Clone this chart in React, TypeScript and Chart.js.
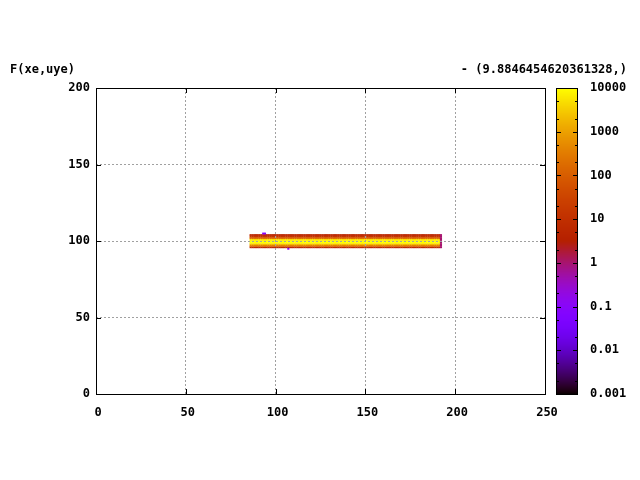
import React, { useEffect, useRef } from "react";
import { Chart, registerables } from "chart.js";

Chart.register(...registerables);

// ---- data ----
const leftTitle = "F(xe,uye)";
const rightTitle = "- (9.8846454620361328,)";

const xTicks = [0, 50, 100, 150, 200, 250];
const yTicks = [0, 50, 100, 150, 200];
const cbTicks = [0.001, 0.01, 0.1, 1, 10, 100, 1000, 10000];
const cbTickLabels = ["0.001", "0.01", "0.1", "1", "10", "100", "1000", "10000"];
const cbMinorFactors = [2, 5];

// heat-map band: columns x = bandFirstColumn..bandLastColumn, rows below
const bandFirstColumn = 86;
const bandLastColumn = 191;
const bandRowsY = [96, 97, 98, 99, 100, 101, 102, 103, 104];
const bandRowValues = [6, 300, 2000, 10000, 10000, 5000, 200, 15, 6];
// last column of the band
const edgeColumnX = 192;
const edgeColumnValues = [1, 1, 1, 1, 1, 1, 1, 1, 1];
// isolated cells
const speckX = [93, 94, 107];
const speckY = [105, 105, 95];
const speckValues = [0.1, 0.1, 0.1];

const CB_MIN = 0.001;
const CB_MAX = 10000;

const FONT = "'DejaVu Sans Mono', monospace";

function palette(v: number): string {
  const lo = Math.log10(CB_MIN);
  const hi = Math.log10(CB_MAX);
  let t = (Math.log10(Math.max(v, 1e-12)) - lo) / (hi - lo);
  t = Math.min(1, Math.max(0, t));
  const r = Math.sqrt(t);
  const g = t * t * t;
  const b = Math.max(0, Math.sin(2 * Math.PI * t));
  return `rgb(${Math.round(r * 255)},${Math.round(g * 255)},${Math.round(b * 255)})`;
}

function buildCells() {
  const cells: { x: number; y: number; v: number }[] = [];
  for (let x = bandFirstColumn; x <= bandLastColumn; x++) {
    bandRowsY.forEach((y, i) => cells.push({ x, y, v: bandRowValues[i] }));
  }
  bandRowsY.forEach((y, i) => cells.push({ x: edgeColumnX, y, v: edgeColumnValues[i] }));
  speckX.forEach((x, i) => cells.push({ x, y: speckY[i], v: speckValues[i] }));
  return cells;
}

const heatPlugin = {
  id: "heatCells",
  beforeDraw(chart: any) {
    const { ctx } = chart;
    const xs = chart.scales.x;
    const ys = chart.scales.y;
    const ds = chart.data.datasets[0];
    ctx.save();
    for (const c of ds.data as any[]) {
      const x0 = xs.getPixelForValue(c.x - 0.5);
      const x1 = xs.getPixelForValue(c.x + 0.5);
      const y0 = ys.getPixelForValue(c.y + 0.5);
      const y1 = ys.getPixelForValue(c.y - 0.5);
      ctx.fillStyle = palette(c.v);
      ctx.fillRect(x0, y0, x1 - x0 + 0.3, y1 - y0 + 0.3);
    }
    ctx.restore();
  },
};

const framePlugin = {
  id: "gnuFrame",
  afterDraw(chart: any) {
    const { ctx, chartArea: a } = chart;
    const xs = chart.scales.x;
    const ys = chart.scales.y;
    const cb = chart.scales.cb;
    ctx.save();
    ctx.strokeStyle = "#000";
    ctx.lineWidth = 1;
    // plot border
    ctx.strokeRect(Math.round(a.left) + 0.5, Math.round(a.top) + 0.5, Math.round(a.right - a.left), Math.round(a.bottom - a.top));
    // inward ticks
    const TL = 5;
    ctx.beginPath();
    for (const v of xTicks) {
      const px = Math.round(xs.getPixelForValue(v)) + 0.5;
      ctx.moveTo(px, a.bottom);
      ctx.lineTo(px, a.bottom - TL);
      ctx.moveTo(px, a.top);
      ctx.lineTo(px, a.top + TL);
    }
    for (const v of yTicks) {
      const py = Math.round(ys.getPixelForValue(v)) + 0.5;
      ctx.moveTo(a.left, py);
      ctx.lineTo(a.left + TL, py);
      ctx.moveTo(a.right, py);
      ctx.lineTo(a.right - TL, py);
    }
    ctx.stroke();

    // colour box
    const cx0 = Math.round(a.right) + 11;
    const cw = 22;
    const top = Math.round(cb.top);
    const bottom = Math.round(cb.bottom);
    for (let py = top; py < bottom; py++) {
      const v = cb.getValueForPixel(py + 0.5);
      ctx.fillStyle = palette(v);
      ctx.fillRect(cx0, py, cw, 1);
    }
    ctx.strokeRect(cx0 + 0.5, top + 0.5, cw - 1, bottom - top);
    ctx.beginPath();
    for (const v of cbTicks) {
      const py = Math.round(cb.getPixelForValue(v)) + 0.5;
      ctx.moveTo(cx0, py);
      ctx.lineTo(cx0 + 5, py);
      ctx.moveTo(cx0 + cw, py);
      ctx.lineTo(cx0 + cw - 5, py);
      if (v < CB_MAX) {
        for (const f of cbMinorFactors) {
          const pm = Math.round(cb.getPixelForValue(v * f)) + 0.5;
          ctx.moveTo(cx0, pm);
          ctx.lineTo(cx0 + 3, pm);
          ctx.moveTo(cx0 + cw, pm);
          ctx.lineTo(cx0 + cw - 3, pm);
        }
      }
    }
    ctx.stroke();
    ctx.restore();
  },
};

export default function App() {
  const ref = useRef<HTMLCanvasElement | null>(null);
  useEffect(() => {
    if (!ref.current) return;
    const font = { family: FONT, size: 12, weight: "bold" as const };
    const chart = new Chart(ref.current, {
      type: "scatter",
      data: {
        datasets: [
          {
            label: leftTitle,
            data: buildCells() as any,
            pointRadius: 0,
            pointHoverRadius: 0,
            showLine: false,
          },
        ],
      },
      options: {
        animation: false,
        responsive: false,
        devicePixelRatio: 1,
        events: [],
        layout: { padding: { left: 10, right: 13, top: 0, bottom: 0 } },
        plugins: {
          legend: { display: false },
          tooltip: { enabled: false },
          title: {
            display: true,
            text: leftTitle,
            align: "start",
            color: "#000",
            font,
            padding: { top: 63, bottom: 0 },
          },
          subtitle: {
            display: true,
            text: rightTitle,
            align: "end",
            color: "#000",
            font,
            padding: { top: -14.4, bottom: 10.6 },
          },
        },
        scales: {
          x: {
            type: "linear",
            position: "bottom",
            min: 0,
            max: 250,
            afterBuildTicks: (s: any) => {
              s.ticks = xTicks.map((v) => ({ value: v }));
            },
            afterFit: (s: any) => {
              s.height = 86;
            },
            ticks: { color: "#000", font, padding: 12, labelOffset: 2, maxRotation: 0, autoSkip: false },
            grid: { color: "#a0a0a0", lineWidth: 1, drawTicks: false },
            border: { display: false, dash: [2, 2] },
          },
          y: {
            type: "linear",
            position: "left",
            min: 0,
            max: 200,
            afterBuildTicks: (s: any) => {
              s.ticks = yTicks.map((v) => ({ value: v }));
            },
            afterFit: (s: any) => {
              s.width = 86;
            },
            ticks: { color: "#000", font, padding: 6, autoSkip: false },
            grid: { color: "#a0a0a0", lineWidth: 1, drawTicks: false },
            border: { display: false, dash: [2, 2] },
          },
          cb: {
            type: "logarithmic",
            position: "right",
            min: CB_MIN,
            max: CB_MAX,
            afterBuildTicks: (s: any) => {
              s.ticks = cbTicks.map((v) => ({ value: v }));
            },
            afterFit: (s: any) => {
              s.width = 82;
            },
            ticks: {
              color: "#000",
              font,
              padding: 45,
              autoSkip: false,
              callback: (_v: any, i: number) => cbTickLabels[i],
            },
            grid: { display: false, drawTicks: false },
            border: { display: false },
          },
        },
      },
      plugins: [heatPlugin, framePlugin],
    });
    return () => chart.destroy();
  }, []);
  return (
    <div style={{ position: "absolute", left: 0, top: 0, width: 640, height: 480, background: "#fff" }}>
      <canvas ref={ref} width={640} height={480} style={{ display: "block" }} />
    </div>
  );
}
